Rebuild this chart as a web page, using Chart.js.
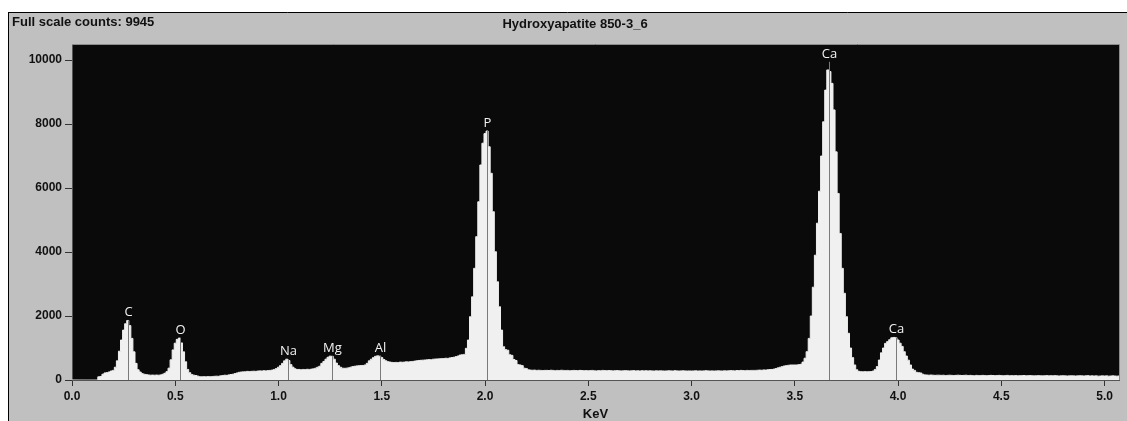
<!DOCTYPE html>
<html>
<head>
<meta charset="utf-8">
<title>Hydroxyapatite 850-3_6</title>
<script src="https://cdn.jsdelivr.net/npm/chart.js@4/dist/chart.umd.min.js"></script>
<style>
  html, body { margin: 0; padding: 0; background: #fff; }
  canvas { display: block; }
</style>
</head>
<body>
<canvas id="spectrum" width="1127" height="421"></canvas>
<script>
// EDS spectrum - counts per 10 eV channel, starting at 0.00 keV
const titleText = "Hydroxyapatite 850-3_6";
const fullScaleCounts = 9945;
const channelStep = 0.01;
const counts = [
  0, 0, 0, 0, 0, 0, 0, 0, 0, 0,
  0, 0, 0, 100, 110, 180, 220, 230, 250, 280,
  300, 400, 600, 900, 1250, 1560, 1760, 1860, 1700, 1300,
  880, 520, 320, 250, 200, 180, 170, 160, 150, 155,
  150, 155, 150, 160, 180, 210, 260, 370, 630, 940,
  1150, 1270, 1310, 1160, 880, 570, 330, 230, 170, 150,
  140, 120, 100, 100, 105, 100, 110, 105, 110, 115,
  120, 115, 130, 140, 150, 145, 160, 170, 180, 200,
  220, 240, 250, 255, 260, 270, 265, 270, 275, 270,
  280, 285, 280, 290, 285, 295, 300, 310, 330, 360,
  400, 450, 520, 600, 650, 610, 480, 400, 350, 330,
  330, 320, 330, 325, 335, 330, 340, 350, 370, 400,
  430, 520, 580, 650, 710, 745, 740, 650, 530, 450,
  400, 370, 365, 370, 380, 400, 420, 430, 440, 445,
  450, 455, 470, 520, 600, 650, 700, 740, 755, 745,
  700, 640, 600, 570, 560, 550, 545, 550, 545, 560,
  555, 560, 570, 565, 575, 580, 590, 600, 610, 615,
  620, 625, 630, 640, 635, 650, 655, 660, 665, 670,
  670, 680, 675, 690, 700, 710, 730, 750, 780, 790,
  800, 990, 1250, 1980, 2600, 3490, 4480, 5570, 6720, 7400,
  7700, 7780, 7290, 6460, 5260, 4010, 3070, 2290, 1560, 1040,
  950, 930, 790, 770, 640, 610, 480, 470, 450, 370,
  360, 320, 310, 305, 310, 300, 305, 300, 295, 300,
  300, 295, 305, 300, 290, 300, 295, 305, 300, 295,
  300, 290, 295, 300, 295, 290, 300, 295, 290, 295,
  290, 295, 300, 290, 285, 295, 290, 300, 295, 290,
  295, 290, 285, 290, 295, 290, 285, 290, 295, 290,
  285, 290, 295, 285, 290, 280, 290, 285, 290, 285,
  290, 285, 280, 290, 285, 290, 285, 280, 285, 290,
  285, 280, 290, 285, 280, 285, 290, 285, 280, 285,
  280, 285, 290, 280, 285, 280, 285, 290, 285, 280,
  285, 280, 285, 290, 285, 280, 290, 285, 290, 295,
  290, 285, 295, 290, 300, 295, 290, 300, 295, 300,
  300, 300, 305, 310, 305, 315, 310, 320, 325, 330,
  340, 360, 380, 400, 420, 440, 450, 460, 470, 470,
  470, 470, 480, 490, 560, 680, 885, 1300, 2000, 2900,
  3900, 4900, 5900, 7000, 8070, 9060, 9690, 9640, 9270, 8440,
  7130, 5830, 4580, 3490, 2710, 1980, 1460, 1000, 700, 470,
  320, 270, 260, 255, 260, 255, 260, 265, 280, 330,
  420, 625, 850, 1000, 1145, 1200, 1260, 1320, 1330, 1320,
  1250, 1150, 1050, 885, 750, 620, 470, 340, 300, 240,
  230, 220, 180, 160, 155, 150, 155, 150, 145, 150,
  150, 145, 150, 140, 145, 150, 145, 140, 145, 150,
  145, 140, 145, 150, 140, 145, 140, 135, 145, 140,
  140, 145, 140, 135, 140, 145, 140, 135, 140, 145,
  140, 135, 140, 145, 135, 140, 135, 140, 130, 135,
  135, 140, 130, 135, 140, 135, 130, 135, 140, 135,
  130, 135, 140, 130, 135, 130, 135, 130, 125, 130,
  135, 130, 125, 130, 135, 130, 125, 130, 135, 130,
  125, 130, 135, 125, 130, 125, 130, 120, 125, 130,
  125, 130, 120, 125, 130, 125, 120, 125
];

// element line markers
const lineNames = ["C", "O", "Na", "Mg", "Al", "P", "Ca", "Ca"];
const lineEnergies = [0.272, 0.521, 1.045, 1.26, 1.49, 2.011, 3.667, 3.99];
const lineHeights = [1860, 1310, 650, 745, 755, 7780, 9945, 1330];

// axis ticks
const xTickValues = [0, 0.5, 1.0, 1.5, 2.0, 2.5, 3.0, 3.5, 4.0, 4.5, 5.0];
const yTickValues = [0, 2000, 4000, 6000, 8000, 10000];

const labelFont = '"Liberation Sans", Arial, sans-serif';

const spectrumPoints = counts.map((c, i) => ({ x: +(i * channelStep).toFixed(2), y: c }));

const panelPlugin = {
    id: "panel",
    beforeDraw(chart) {
        const { ctx, chartArea: a, width, height } = chart;
        ctx.save();
        ctx.fillStyle = "#ffffff";
        ctx.fillRect(0, 0, width, height);
        ctx.fillStyle = "#c0c0c0";
        ctx.fillRect(8, 12, width - 8, height - 12);
        ctx.strokeStyle = "#000";
        ctx.lineWidth = 1;
        ctx.beginPath();
        ctx.moveTo(8, 12.5); ctx.lineTo(width, 12.5);
        ctx.moveTo(8.5, 12); ctx.lineTo(8.5, height);
        ctx.stroke();
        ctx.fillStyle = "#0a0a0a";
        ctx.fillRect(a.left, a.top, a.right - a.left, a.bottom - a.top);

        ctx.fillStyle = "#111";
        ctx.font = "bold 13px " + labelFont;
        ctx.textBaseline = "alphabetic";
        ctx.textAlign = "left";
        ctx.fillText("Full scale counts: " + fullScaleCounts, 12, 26);
        ctx.textAlign = "center";
        ctx.fillText(titleText, 575, 28);
        ctx.restore();
    },
    afterDatasetsDraw(chart) {
        const { ctx, chartArea: a, scales } = chart;
        ctx.save();
        ctx.strokeStyle = "#8c8c8c";
        ctx.lineWidth = 1;
        ctx.beginPath();
        ctx.moveTo(a.left, a.top + 0.5); ctx.lineTo(a.right + 0.5, a.top + 0.5);
        ctx.lineTo(a.right + 0.5, a.bottom);
        ctx.stroke();

        const y0 = scales.y.getPixelForValue(0);
        ctx.font = "13px 'Open Sans', sans-serif";
        ctx.textAlign = "center";
        ctx.textBaseline = "alphabetic";
        lineNames.forEach((name, i) => {
            const x = Math.round(scales.x.getPixelForValue(lineEnergies[i])) + 0.5;
            const yTop = scales.y.getPixelForValue(lineHeights[i]);
            ctx.strokeStyle = "#7a7a7a";
            ctx.beginPath();
            ctx.moveTo(x, y0);
            ctx.lineTo(x, yTop);
            ctx.stroke();
            ctx.fillStyle = "#f2f2f2";
            ctx.fillText(name, x, yTop - 4);
        });
        ctx.restore();
    }
};

new Chart(document.getElementById("spectrum"), {
    type: "line",
    data: {
        datasets: [{
            data: spectrumPoints,
            stepped: "middle",
            fill: "origin",
            backgroundColor: "#eff0ef",
            borderColor: "#eff0ef",
            borderWidth: 1,
            pointRadius: 0
        }]
    },
    options: {
        responsive: false,
        animation: false,
        devicePixelRatio: 1,
        layout: { padding: { top: 44, left: 8, right: 8, bottom: 0 } },
        plugins: {
            legend: { display: false },
            tooltip: { enabled: false }
        },
        scales: {
            x: {
                type: "linear",
                min: 0,
                max: 5.07,
                afterFit(scale) { scale.height = 41; },
                afterBuildTicks(scale) { scale.ticks = xTickValues.map(v => ({ value: v })); },
                ticks: {
                    maxRotation: 0,
                    autoSkip: false,
                    padding: 3,
                    color: "#111",
                    font: { family: labelFont, size: 12, weight: "bold" },
                    callback: v => v.toFixed(1)
                },
                grid: { drawOnChartArea: false, drawTicks: true, tickLength: 6, color: "#333" },
                border: { display: true, color: "#555" },
                title: {
                    display: true,
                    text: "KeV",
                    color: "#111",
                    padding: 0,
                    font: { family: labelFont, size: 13, weight: "bold", lineHeight: 1 }
                }
            },
            y: {
                min: 0,
                max: 10500,
                afterFit(scale) { scale.width = 64; },
                afterBuildTicks(scale) { scale.ticks = yTickValues.map(v => ({ value: v })); },
                ticks: {
                    autoSkip: false,
                    padding: 3,
                    color: "#111",
                    font: { family: labelFont, size: 12, weight: "bold" },
                    callback: v => String(v)
                },
                grid: { drawOnChartArea: false, drawTicks: true, tickLength: 7, color: "#333" },
                border: { display: true, color: "#555" }
            }
        }
    },
    plugins: [panelPlugin]
});
</script>
</body>
</html>
